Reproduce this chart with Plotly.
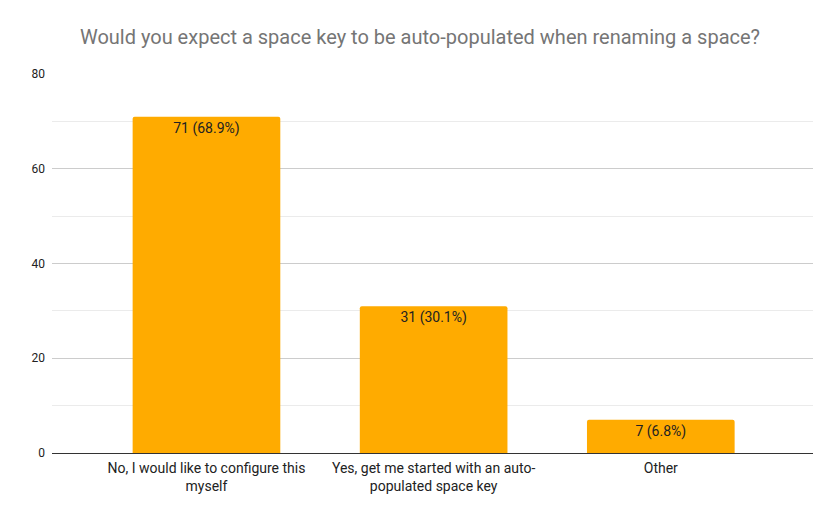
import plotly.graph_objects as go

categories = ["No, I would like to configure this<br>myself",
              "Yes, get me started with an auto-<br>populated space key",
              "Other"]
values = [71, 31, 7]
labels = ["71 (68.9%)", "31 (30.1%)", "7 (6.8%)"]
y_ticks = [0, 20, 40, 60, 80]

# page body has an 8px margin; compensate so the plot lands where the reference has it
W, H = 823, 503

fig = go.Figure(go.Bar(
    x=categories, y=values, text=labels,
    textposition="inside", insidetextanchor="end",
    textfont=dict(family="Roboto", size=14, color="#222222"),
    marker=dict(color="#FFAB00", line=dict(width=0), cornerradius=2),
    width=0.65,
))

fig.update_layout(
    width=W, height=H,
    margin=dict(l=44, r=18, t=66, b=58),
    paper_bgcolor="white", plot_bgcolor="white",
    title=dict(text="Would you expect a space key to be auto-populated when renaming a space?",
               x=(420 - 8) / W, xanchor="center", y=1 - 29 / H, yanchor="middle",
               font=dict(family="Roboto", size=20, color="#757575")),
    font=dict(family="Roboto", size=14, color="#222222"),
    showlegend=False,
)
fig.update_xaxes(range=[-0.68, 2.67], showgrid=False, ticks="", showline=False,
                 ticklabelstandoff=5, tickfont=dict(size=14, color="#222222"))
fig.update_yaxes(range=[0, 80], tickvals=y_ticks, showgrid=True, gridcolor="#cccccc",
                 gridwidth=1, zeroline=True, zerolinecolor="#333333", zerolinewidth=1,
                 minor=dict(dtick=10, showgrid=True, gridcolor="#ebebeb", gridwidth=1),
                 ticks="", ticklabelstandoff=6, tickfont=dict(size=12, color="#222222"))

fig.write_html("out.html")
